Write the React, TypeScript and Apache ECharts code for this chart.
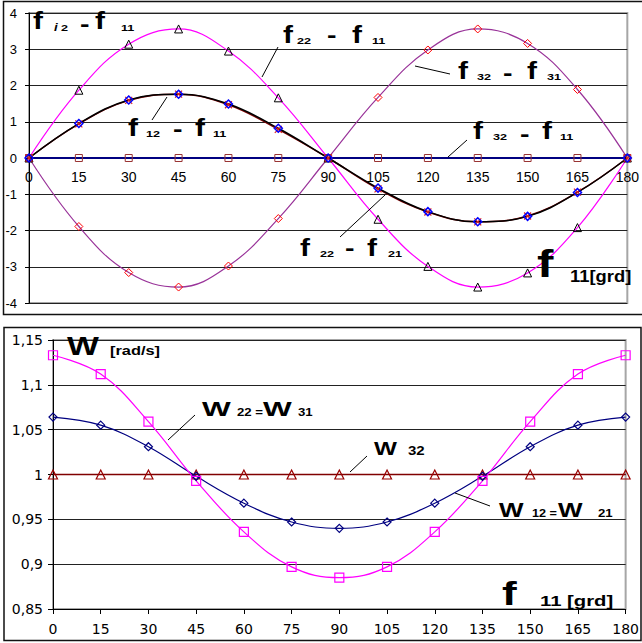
import React, { useEffect, useRef } from "react";
import * as echarts from "echarts";

// ---------- data ----------
const xDeg = [0, 15, 30, 45, 60, 75, 90, 105, 120, 135, 150, 165, 180];

// top panel (phase differences)
const f22_f11 = [0, 1.87, 3.14, 3.56, 2.95, 1.66, 0, -1.69, -2.99, -3.56, -3.17, -1.92, 0];
const f32_f31 = [0, -1.89, -3.16, -3.56, -2.98, -1.67, 0, 1.67, 2.98, 3.56, 3.16, 1.89, 0];
const f12_f11 = [0, 0.95, 1.6, 1.76, 1.49, 0.82, 0, -0.83, -1.48, -1.76, -1.61, -0.95, 0];
const f22_f21 = [0, 0.94, 1.59, 1.76, 1.47, 0.79, 0, -0.85, -1.49, -1.76, -1.6, -0.94, 0];
const f32_f11 = [0, 0, 0, 0, 0, 0, 0, 0, 0, 0, 0, 0, 0];

// bottom panel (frequencies)
const w22_w31 = [1.133, 1.112, 1.059, 0.993, 0.936, 0.897, 0.885, 0.897, 0.936, 0.993, 1.059, 1.112, 1.133];
const w12_w21 = [1.064, 1.055, 1.031, 0.998, 0.968, 0.947, 0.94, 0.947, 0.968, 0.998, 1.031, 1.055, 1.064];
const w32 = [1, 1, 1, 1, 1, 1, 1, 1, 1, 1, 1, 1, 1];

const ARIAL = "Liberation Sans, Arial, sans-serif";
const DEJAVU = "DejaVu Sans, Verdana, sans-serif";

const pts = (arr: number[]) => xDeg.map((x, i) => [x, arr[i]]);

const T = (
  x: number,
  y: number,
  text: string,
  size: number,
  sx = 1,
  italic = false
) => ({
  type: "text",
  x,
  y,
  scaleX: sx,
  z: 100,
  style: {
    text,
    fontSize: size,
    fontFamily: ARIAL,
    fontWeight: "bold",
    fontStyle: italic ? "italic" : "normal",
    fill: "#000",
    textAlign: "left",
    textVerticalAlign: "middle",
    verticalAlign: "middle",
  },
});

const L = (x1: number, y1: number, x2: number, y2: number) => ({
  type: "line",
  z: 100,
  shape: { x1, y1, x2, y2 },
  style: { stroke: "#000", lineWidth: 1 },
});

// phi-style label: f sub - f sub
const phiLabel = (
  fx: number,
  fy: number,
  s1x: number,
  s1: string,
  dx: number,
  dy: number,
  f2x: number,
  s2x: number,
  s2: string
) => [
  T(fx, fy, "f", 23, 1.3),
  T(s1x, fy + 5.5, s1, 9, 1.4),
  T(dx, dy, "-", 22, 1.3),
  T(f2x, fy, "f", 23, 1.3),
  T(s2x, fy + 5.5, s2, 9, 1.4),
];

export default function App() {
  const ref = useRef<HTMLDivElement>(null);

  useEffect(() => {
    if (!ref.current) return;
    const chart = echarts.init(ref.current, undefined, { renderer: "svg" });

    const graphic: any[] = [
      // outer panel borders
      {
        type: "rect",
        z: 90,
        shape: { x: 3.5, y: 1.5, width: 660, height: 313 },
        style: { fill: "none", stroke: "#111", lineWidth: 1.5 },
      },
      {
        type: "rect",
        z: 90,
        shape: { x: 4, y: 327.5, width: 637, height: 313 },
        style: { fill: "none", stroke: "#111", lineWidth: 1.5 },
      },
      // top panel labels
      T(33, 21.5, "f", 23, 1.3),
      T(54, 27, "i", 11, 1.2, true),
      T(61, 27.5, "2", 9, 1.4),
      T(80, 23, "-", 22, 1.3),
      T(95, 21.5, "f", 23, 1.3),
      T(121, 27.5, "11", 9, 1.4),
      ...phiLabel(283, 35, 297, "22", 327, 34.2, 352, 372, "11"),
      ...phiLabel(128, 128.5, 146, "12", 173, 128.7, 195, 213, "11"),
      ...phiLabel(458, 71.5, 477, "32", 503, 72, 527, 547, "31"),
      ...phiLabel(473, 131.5, 493, "32", 520, 133, 542, 560, "11"),
      ...phiLabel(300, 248.5, 320, "22", 345, 247.5, 367, 388, "21"),
      T(537, 264, "f", 38, 1.3),
      T(570, 276, "11[grd]", 16, 1.15),
      L(262, 77, 278, 47),
      L(152, 120, 167, 97),
      L(415, 66, 450, 74),
      L(448, 157, 467, 140),
      L(385, 195, 340, 237),
      // bottom panel labels
      T(67, 345.5, "W", 26, 1.3),
      T(110, 351, "[rad/s]", 13, 1.26),
      T(202, 408.5, "W", 21, 1.45),
      T(237, 412, "22 =", 11, 1.2),
      T(263, 408.5, "W", 21, 1.45),
      T(298, 412, "31", 11, 1.2),
      T(374, 449.5, "W", 18, 1.35),
      T(408, 451, "32", 12, 1.25),
      T(499, 510.5, "W", 20, 1.3),
      T(532, 513.5, "12 =", 11, 1.15),
      T(558, 510.5, "W", 20, 1.3),
      T(598, 513.5, "21", 11, 1.2),
      T(502, 592.5, "f", 34, 1.3),
      T(540, 601, "11 [grd]", 14, 1.45),
      L(168, 440, 195, 415),
      L(350, 472, 367, 456),
      L(455, 493, 490, 506),
    ];

    const hollow = (c: string, w = 1) => ({ color: "rgba(255,255,255,0)", borderColor: c, borderWidth: w });

    chart.setOption({
      animation: false,
      backgroundColor: "#fff",
      textStyle: { fontFamily: ARIAL },
      grid: [
        { left: 29, top: 13, width: 602, height: 290, show: true, borderColor: "#a6a6a6", borderWidth: 2, backgroundColor: "rgba(0,0,0,0)" },
        { left: 53, top: 340, width: 574, height: 269, show: true, borderColor: "#a6a6a6", borderWidth: 2, backgroundColor: "rgba(0,0,0,0)" },
      ],
      xAxis: [
        {
          type: "value",
          gridIndex: 0,
          min: 0,
          max: 180,
          interval: 15,
          position: "bottom",
          offset: -145,
          axisLine: { onZero: false, lineStyle: { color: "#000", width: 1 } },
          axisTick: { show: false },
          splitLine: { show: false },
          axisLabel: { fontSize: 14, fontFamily: ARIAL, color: "#000", margin: 12 },
        },
        {
          type: "value",
          gridIndex: 1,
          min: 0,
          max: 180,
          interval: 15,
          axisLine: { onZero: false, lineStyle: { color: "#000", width: 1 } },
          axisTick: { show: true, length: 5, lineStyle: { color: "#000" } },
          splitLine: { show: false },
          axisLabel: { fontSize: 14, fontFamily: DEJAVU, color: "#000", margin: 13 },
        },
      ],
      yAxis: [
        {
          type: "value",
          gridIndex: 0,
          min: -4,
          max: 4,
          interval: 1,
          axisLine: { show: true, onZero: false, lineStyle: { color: "#000", width: 1 } },
          axisTick: { show: true, length: 4, lineStyle: { color: "#000" } },
          splitLine: { show: true, lineStyle: { color: "#222", width: 1 } },
          axisLabel: { fontSize: 13, fontFamily: ARIAL, color: "#000", margin: 12 },
        },
        {
          type: "value",
          gridIndex: 1,
          min: 0.85,
          max: 1.15,
          interval: 0.05,
          axisLine: { show: true, onZero: false, lineStyle: { color: "#000", width: 1 } },
          axisTick: { show: true, length: 5, lineStyle: { color: "#000" } },
          splitLine: { show: true, lineStyle: { color: "#222", width: 1 } },
          axisLabel: {
            fontSize: 14,
            fontFamily: DEJAVU,
            color: "#000",
            margin: 10,
            formatter: (v: number) => String(+v.toFixed(2)).replace(".", ","),
          },
        },
      ],
      series: [
        {
          name: "f32 - f11",
          type: "line",
          xAxisIndex: 0,
          yAxisIndex: 0,
          data: pts(f32_f11),
          lineStyle: { color: "#000080", width: 2 },
          symbol: "rect",
          symbolSize: 7,
          itemStyle: hollow("#993333"),
        },
        {
          name: "f22 - f11",
          type: "line",
          xAxisIndex: 0,
          yAxisIndex: 0,
          smooth: 0.4,
          data: pts(f22_f11),
          lineStyle: { color: "#ff00ff", width: 1.2 },
          symbol: "triangle",
          symbolSize: 8,
          itemStyle: hollow("#000"),
        },
        {
          name: "f32 - f31",
          type: "line",
          xAxisIndex: 0,
          yAxisIndex: 0,
          smooth: 0.4,
          data: pts(f32_f31),
          lineStyle: { color: "#993399", width: 1.2 },
          symbol: "diamond",
          symbolSize: 8,
          itemStyle: hollow("#ff0000"),
        },
        {
          name: "f22 - f21",
          type: "line",
          xAxisIndex: 0,
          yAxisIndex: 0,
          smooth: 0.4,
          data: pts(f22_f21),
          lineStyle: { color: "#800000", width: 1.5 },
          symbol: "path://M0 0L10 10M10 0L0 10",
          symbolSize: 7,
          itemStyle: hollow("#dd2222", 1.2),
        },
        {
          name: "f12 - f11",
          type: "line",
          xAxisIndex: 0,
          yAxisIndex: 0,
          smooth: 0.4,
          data: pts(f12_f11),
          lineStyle: { color: "#000", width: 1.5 },
          symbol: "diamond",
          symbolSize: 8,
          itemStyle: hollow("#0000ff", 1.5),
        },
        {
          name: "w32",
          type: "line",
          xAxisIndex: 1,
          yAxisIndex: 1,
          data: pts(w32),
          lineStyle: { color: "#800000", width: 1.5 },
          symbol: "triangle",
          symbolSize: 9,
          itemStyle: hollow("#990000", 1.2),
        },
        {
          name: "w12=w21",
          type: "line",
          xAxisIndex: 1,
          yAxisIndex: 1,
          smooth: 0.4,
          data: pts(w12_w21),
          lineStyle: { color: "#000080", width: 1.2 },
          symbol: "diamond",
          symbolSize: 8,
          itemStyle: hollow("#000080", 1.2),
        },
        {
          name: "w22=w31",
          type: "line",
          xAxisIndex: 1,
          yAxisIndex: 1,
          smooth: 0.4,
          data: pts(w22_w31),
          lineStyle: { color: "#ff00ff", width: 1.2 },
          symbol: "rect",
          symbolSize: 9,
          itemStyle: hollow("#ff00ff", 1.2),
        },
      ],
      graphic,
    });

    return () => chart.dispose();
  }, []);

  return (
    <div
      ref={ref}
      style={{ position: "fixed", left: 0, top: 0, width: 642, height: 643, background: "#fff" }}
    />
  );
}
